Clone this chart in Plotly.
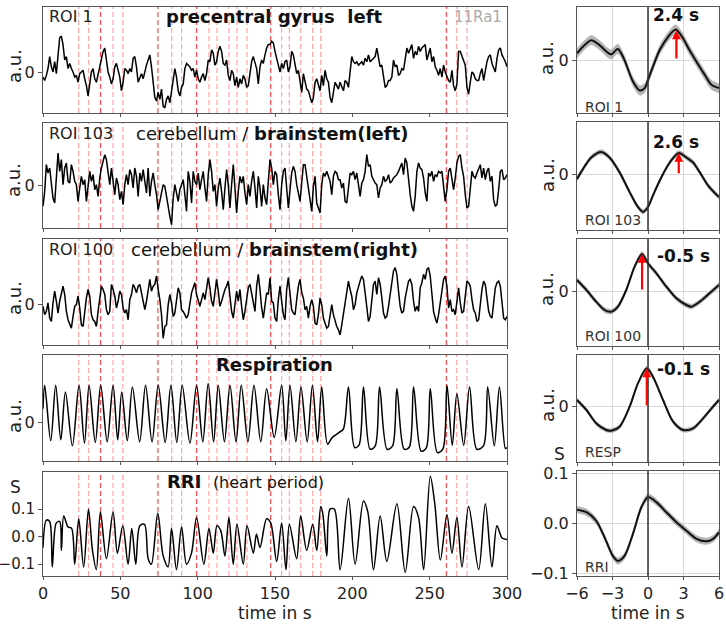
import numpy as np
import plotly.graph_objects as go

W, H = 726, 626          # browser window = figure size (body margin removed)
FONT = "DejaVu Sans"

# ---------------- data ----------------
# fMRI ROI traces, a.u., sampled uniformly over 0..300 s
roi1 = [
    -13, -23, -8, 12, 47, 17, 2, 32, -3, 62,
    102, 107, 82, 37, 47, 12, 27, 12, 2, -13,
    -8, -28, -3, 2, 7, -18, -38, -68, -28, 2,
    12, -18, -28, -3, 22, 47, 62, 72, 42, 2,
    -13, -33, -18, 17, 27, 7, -13, -53, -28, 12,
    7, -3, 12, 2, 42, 47, 17, -28, -13, -3,
    -18, 7, 22, 37, 52, 17, -28, -73, -83, -58,
    -78, -48, -98, -103, -78, -68, -88, -58, -18, 12,
    -13, -53, -68, -43, -33, 12, 27, 22, 17, 7,
    12, -13, 7, -18, -28, -13, -3, -23, -3, 37,
    32, 67, 57, 22, 32, 62, 77, 62, 27, 22,
    37, -8, -23, 7, -3, -38, -13, -43, -18, -33,
    -8, -18, -43, -38, -8, 32, 47, 27, 12, -33,
    17, 37, 27, 52, 72, 82,
    82, 92, 87, 62, 37, 22, 2, 27, 12, 32,
    37, 2, 17, 62, 52, 17, -3, 7, -28, -58,
    -3, -23, -48, -53, -68, -88, -73, -28, -18, -38,
    -53, -8, -38, 7, -18, -28, -73, -88, -58, -28,
    -38, -48, -28, -43, -53, -23, -28, -43, 7, 47,
    32, 27, 32, 22, 27, 32, 22, 42, 32, 52,
    32, 37, 42, 47, 72, 37, 17, 22, -13, -43,
    -38, -23, -23, -13, 37, 17, 22, -8, -3, 12,
    7, 37, 72, 57, 72, 82, 42, 62, 52, 77,
    62, 72, 77, 82, 37, 57, 72, 32, 47, 17,
    7, -8, 12, -13, 22, 2, -13, -23, -28, 7,
    -38, -53, -33, 62, 62, 47, 32, 22, -43, -63,
    -28, 2, -3, -18, -23, -23, -3, 12, -23, 7,
    32, 47, 52, 27, 12, 2, 42, 67, 72, 52,
    42, 32, 17,
]

roi103 = [
    -63, -18, 62, 37, 52, 2, -38, -53, 22, 97,
    42, 77, 2, 52, 67, 12, 7, 62, 42, 12,
    2, -48, -8, 27, 2, 17, -48, 2, 42, 12,
    32, -13, 2, -33, 22, 52, 72, 92, 77, 42,
    2, 52, 12, -28, 22, 2, -43, -18, -58, 2,
    32, 2, 47, 32, -8, 52, 27, -33, 37, 12,
    47, 17, -23, 52, -33, 12, 37, 2, -28, -73,
    -48, -13, 2, -3, -38, -68, -93, -118, -38, 2,
    -23, -48, -13, 2, 17, -28, -78, 42, 12, -53,
    42, 12, 2, 37, -13, 17, 42, -8, -48, 32,
    77, 42, -18, 2, -63, -8, 22, -18, -73, -8,
    47, 2, -68, 2, 62, -8, -83, -18, 27, 7,
    27, -23, -58, 2, -33, 12, 42, -8, -68, 27,
    -8, -63, 2, -38, -58, 12,
    77, 52, 2, 42, 32, -28, -73, 2, 42, 52,
    2, -68, -13, 37, 57, 42, 2, -23, -48, 7,
    62, 62, 27, 7, -28, -78, -3, 27, -53, -68,
    -83, 2, 37, 27, 42, 27, 12, -28, 27, 42,
    37, 17, 17, -8, 7, -48, -53, -8, 37, 32,
    42, 17, 37, 2, -33, 7, 17, 42, 92, 57,
    62, 27, 17, 7, 2, -38, -8, 2, 27, 12,
    17, 32, 7, 12, 22, 27, 32, 42, 52, 67,
    32, 82, 67, 12, -28, -63, -78, -33, 42, 67,
    52, 47, 22, -23, -48, 37, 27, 42, 12, 32,
    27, 42, 37, 42, -3, -48, -13, 42, 52, 12,
    -13, 22, 67, 87, 92, 52, 27, -28, -68, -63,
    2, 42, 27, 22, 37, 52, 62, 22, 52, 17,
    42, 52, 12, 27, -43, -63, -58, -13, 42, 47,
    17, 22, 32,
]

roi100 = [
    -5, -30, -20, 5, -40, -50, 5, 40, 10, -25,
    10, 35, 55, 30, -20, -45, -60, -70, -35, -5,
    0, 25, -10, -60, -65, -20, 20, 45, 25, -30,
    -45, -50, -65, -20, 25, 55, 45, 30, -15, -30,
    -20, 60, 45, 25, -10, 10, 40, 30, -10, -25,
    -15, -45, 15, 30, 60, 50, 35, 55, 60, 35,
    10, -15, 10, 50, 75, 40, 55, 60, 85, 45,
    15, -30, -100, -65, -60, 0, 30, 5, -35, -25,
    20, 50, 35, -15, -20, -30, -40, -30, 10, 35,
    50, 65, 30, 10, -5, 15, 35, 15, 55, 80,
    50, 10, -5, 35, 75, 40, -5, 10, 30, 45,
    55, 70, 25, -20, -40, 10, 40, 10, 45, -5,
    -45, -20, 10, 50, 60, 35, 10, -20, 55, 90,
    45, -10, -40, -5, 35, 30,
    80, 10, 5, -40, -50, 15, 55, 10, -30, -45,
    45, 80, 35, -15, -25, -30, 15, 55, 75, 35,
    20, -15, -5, -40, -5, 15, -5, -55, -60, -30,
    20, 0, -40, -55, -70, -65, -30, 0, -30, -50,
    -65, -75, -90, -60, -30, 0, 35, 70, 45, 25,
    -15, 0, 35, 55, 70, 85, 75, 35, -15, -50,
    -35, 15, 60, 70, 30, 80, 60, 20, -25, -40,
    -35, -5, 35, 70, 100, 110, 90, 40, -5, -25,
    -20, 20, 50, 70, 75, 60, 10, -20, -5, -20,
    50, 65, 90, 75, 105, 110, 85, 20, -20, -40,
    -55, -30, 10, 50, 75, 85, 55, -10, 15, -20,
    -15, -30, 15, 50, 5, -25, -20, 35, 70, 65,
    55, 15, -15, -25, -50, -45, 10, 45, 70, 60,
    20, -20, -35, -40, 5, 50, 65, 70, 55, 10,
    -40, -45, -35,
]

# respiration: key points (peaks and troughs; time in s, a.u.)
resp_t = [0, 1.1, 5.0, 8.2, 11.5, 14.5, 19.0, 23.3, 26.8, 29.8,
          33.8, 37.3, 41.5, 45.3, 48.3, 50.9, 54.5, 57.8, 62.5, 66.3,
          70.5, 74.5, 79.0, 82.7, 86.5, 90.0, 95.0, 99.3, 103.3, 106.8,
          110.3, 113.3, 117.3, 120.9, 124.8, 128.2, 132.5, 136.4, 140.8, 144.6,
          149.5, 154.3, 157.0, 159.7, 163.5, 166.8, 170.8, 174.2, 177.5, 180.2,
          184.0, 187.0, 191.5, 194.2, 197.5, 201.5, 204.3, 207.2, 211.5, 214.8,
          217.6, 222.5, 226.0, 228.8, 233.5, 236.8, 239.6, 244.5, 247.8, 250.4,
          255.0, 258.5, 261.2, 264.6, 267.6, 272.0, 275.8, 280.5, 284.8, 287.5,
          291.8, 295.1, 299.0, 300.0]
resp_v = [40, 110, -55, 110, -52, 90, -70, 110, -62, 110,
          -60, 110, -58, 110, -52, 90, -55, 105, -58, 110,
          -58, 110, -60, 110, -60, 110, -62, 110, -58, 115,
          -58, 110, -58, 110, -58, 110, -58, 110, -58, 100,
          -45, 110, -55, 110, -58, 105, -58, 110, -58, 105,
          -65, -45, -30, -20, 105, -75, -68, 105, -80, -70,
          105, -80, -70, 100, -80, -74, 105, -86, -76, 100,
          -90, -80, 110, -68, 85, -68, 105, -80, -70, 105,
          -70, 105, -78, -75]

# RRI: key points (time in s, s)
rri_t = [0, 2.2, 4.3, 6.0, 8.6, 10.8, 11.9, 13.4, 16.2, 18.5,
         20.5, 23.1, 26.3, 29.4, 32.0, 34.5, 37.1, 41.0, 45.3, 48.1,
         51.6, 55.0, 57.4, 60.0, 62.6, 65.6, 68.0, 70.1, 74.2, 77.7,
         80.9, 83.1, 86.3, 89.6, 92.8, 96.0, 99.3, 104.0, 107.3, 110.1,
         112.5, 115.0, 117.6, 120.2, 123.0, 125.4, 129.5, 131.9, 136.0, 138.0,
         140.3, 144.6, 147.2, 151.1, 154.3, 157.1, 159.3, 164.0, 166.6, 170.5,
         174.4, 177.0, 179.6, 181.0, 183.5, 185.6, 188.4, 192.1, 197.5, 201.8,
         207.2, 210.0, 213.7, 218.0, 222.3, 228.8, 234.2, 239.6, 242.8, 246.1,
         250.4, 253.3, 256.9, 261.2, 264.4, 267.6, 270.9, 275.2, 281.7, 286.0,
         290.3, 293.5, 296.8, 300.0]
rri_v = [-0.04, 0.06, 0.055, -0.11, 0.05, 0.055, -0.05, 0.075, 0.035, 0.03,
         -0.10, 0.065, -0.11, 0.10, -0.05, -0.12, 0.09, -0.08, 0.09, -0.06,
         0.04, -0.10, 0.03, -0.10, 0.04, 0.045, -0.08, -0.10, 0.085, -0.07,
         -0.11, 0.03, -0.12, 0.035, -0.10, -0.06, 0.07, -0.10, 0.03, -0.06,
         0.04, 0.02, -0.07, 0.07, -0.10, 0.045, -0.10, 0.04, -0.06, 0.01,
         -0.04, 0.065, 0.05, -0.09, 0.05, -0.12, 0.045, -0.08, 0.075, -0.05,
         0.045, -0.05, 0.11, 0.08, -0.07, 0.10, 0.10, -0.12, 0.14, -0.10,
         0.13, 0.09, -0.12, 0.075, -0.09, 0.12, -0.13, 0.11, 0.07, -0.12,
         0.22, 0.12, -0.085, 0.08, -0.06, 0.07, -0.11, 0.11, -0.12, 0.12,
         -0.11, 0.04, -0.005, -0.01]

# event markers (s)
events_strong = [37.2, 74.3, 99.3, 147.2, 260.8]
events_light = [23.1, 29.4, 45.3, 51.6, 83.2, 89.6, 107.3, 112.5, 120.2,
                125.4, 131.9, 154.3, 159.3, 166.6, 174.4, 179.6, 267.5, 274.2]

# cross-correlation / lag curves (lag in s)
lag1_t = [-6.0, -5.5, -4.8, -4.1, -3.4, -3.1, -2.55, -2.05, -1.27, -0.7, -0.28,
          0.0, 0.42, 0.99, 1.7, 2.34, 2.97, 3.5, 4.1, 4.8, 5.36, 6.0]
lag1_v = [20, 40, 60, 45, 22, 17, 33, 5, -65, -92, -85,
          -60, -20, 30, 70, 92, 65, 30, -5, -45, -75, -85]
lag103_t = [-6.0, -5.5, -4.8, -3.95, -3.25, -2.4, -1.55, -0.85, -0.42, 0.0,
            0.42, 1.13, 1.84, 2.6, 3.25, 3.81, 4.38, 5.08, 6.0]
lag103_v = [-13, 17, 52, 69, 52, 7, -53, -98, -113, -98,
            -63, -8, 37, 66, 52, 37, 7, -33, -68]
lag100_t = [-6.0, -5.2, -4.38, -3.67, -3.1, -2.54, -1.84, -1.13, -0.5, 0.0,
            0.71, 1.55, 2.4, 3.25, 3.67, 4.38, 5.2, 6.0]
lag100_v = [33, 3, -32, -57, -62, -47, 3, 73, 111, 83,
            53, 13, -22, -42, -47, -32, -7, 18]
lagresp_t = [-6.0, -5.2, -4.38, -3.53, -3.1, -2.4, -1.55, -0.85, -0.1, 0.42,
             1.27, 2.12, 2.97, 3.81, 4.66, 5.5, 6.0]
lagresp_v = [20, -10, -50, -70, -72, -60, 0, 70, 115, 90,
             20, -45, -70, -65, -35, 0, 20]
lagrri_t = [-6.0, -5.2, -4.38, -3.67, -2.97, -2.54, -1.98, -1.27, -0.56, 0.0,
            0.71, 1.55, 2.4, 3.25, 4.1, 4.94, 5.5, 6.0]
lagrri_v = [0.027, 0.022, 0.005, -0.028, -0.065, -0.075, -0.065, -0.021, 0.032, 0.052,
            0.042, 0.022, 0.002, -0.015, -0.031, -0.036, -0.031, -0.018]
lag_err = [15, 8, 8, 7, 0.007]          # half-width of the grey band
peak_lags = [2.4, 2.6, -0.5, -0.1]     # marked lag of max correlation

# ---------------- layout helpers (window pixel coords -> paper) ----------------
def names(i):
    s = "" if i == 1 else str(i)
    return "x" + s, "y" + s, "xaxis" + s, "yaxis" + s

def px(x):
    return x / W

def py(y):
    return 1 - y / H

def xd(a, b):
    return [max(0.0, px(a)), min(1.0, px(b))]

def yd(top, bot):
    return [max(0.0, py(bot)), min(1.0, py(top))]

LX = (43, 507)
RX = (577, 719)
left_boxes = [(7, 113), (123, 228), (239, 345), (355, 461), (472, 576)]
right_boxes = [(7, 113), (122, 230), (239, 346), (355, 462), (471, 576)]
left_ranges = [[-118, 192], [-128, 187], [-120, 195], [-115, 200], [-0.143, 0.235]]
right_ranges = [[-160, 160], [-168, 160], [-165, 156], [-166, 155], [-0.105, 0.104]]

time = np.linspace(0, 300, len(roi1))
left_series = [
    (time, roi1, "linear"),
    (np.linspace(0, 300, len(roi103)), roi103, "linear"),
    (np.linspace(0, 300, len(roi100)), roi100, "linear"),
    (resp_t, resp_v, "spline"),
    (rri_t, rri_v, "spline"),
]
right_series = [(lag1_t, lag1_v), (lag103_t, lag103_v), (lag100_t, lag100_v),
                (lagresp_t, lagresp_v), (lagrri_t, lagrri_v)]

fig = go.Figure()
layout = {}
shapes = []
annotations = []

FRAME = "#555"
tickfont = dict(family=FONT, size=16, color="#222")
axis_common = dict(ticks="outside", tickcolor=FRAME, showline=True,
                   mirror=True, linecolor=FRAME, linewidth=1, zeroline=False,
                   automargin=False)

# left panels
for k in range(5):
    i = k + 1
    xn, yn, xa, ya = names(i)
    tx, tv, shp = left_series[k]
    line = dict(color="black", width=1.5, shape=shp)
    if shp == "spline":
        line["smoothing"] = 0.9
    fig.add_trace(go.Scatter(x=tx, y=tv, mode="lines", line=line,
                             xaxis=xn, yaxis=yn, showlegend=False, hoverinfo="skip"))
    layout[xa] = dict(domain=xd(*LX), anchor=yn, range=[0, 300],
                      tickvals=[0, 50, 100, 150, 200, 250, 300], ticklen=3,
                      showticklabels=(k == 4), showgrid=False, tickfont=tickfont,
                      **axis_common)
    if k < 4:
        ytv, ytt, yf = [0], ["0"], tickfont
    else:
        ytv, ytt = [-0.1, 0.0, 0.1], ["\u22120.1", "0.0", "0.1"]
        yf = dict(family=FONT, size=15, color="#222")
    layout[ya] = dict(domain=yd(*left_boxes[k]), anchor=xn, range=left_ranges[k],
                      tickvals=ytv, ticktext=ytt, showgrid=False, tickfont=yf,
                      ticklen=4, **axis_common)
    for t in events_light + events_strong:
        alpha = 0.8 if t in events_strong else 0.4
        shapes.append(dict(type="line", xref=xn, yref=yn + " domain", x0=t, x1=t,
                           y0=0, y1=1, layer="below",
                           line=dict(color=f"rgba(255,30,30,{alpha})", width=1.2,
                                     dash="5px,3px")))

# right panels
for k in range(5):
    i = k + 6
    xn, yn, xa, ya = names(i)
    lt, lv = right_series[k]
    lv = np.array(lv, dtype=float)
    err = lag_err[k]
    fig.add_trace(go.Scatter(x=lt, y=lv + err, mode="lines",
                             line=dict(width=0, shape="spline", smoothing=0.8),
                             xaxis=xn, yaxis=yn, showlegend=False, hoverinfo="skip"))
    fig.add_trace(go.Scatter(x=lt, y=lv - err, mode="lines", fill="tonexty",
                             fillcolor="rgba(150,150,150,0.7)",
                             line=dict(width=0, shape="spline", smoothing=0.8),
                             xaxis=xn, yaxis=yn, showlegend=False, hoverinfo="skip"))
    fig.add_trace(go.Scatter(x=lt, y=lv, mode="lines",
                             line=dict(color="#111", width=2, shape="spline", smoothing=0.8),
                             xaxis=xn, yaxis=yn, showlegend=False, hoverinfo="skip"))
    layout[xa] = dict(domain=xd(*RX), anchor=yn, range=[-6, 6],
                      tickvals=[-6, -3, 0, 3, 6],
                      ticktext=["\u22126", "\u22123", "0", "3", "6"], ticklen=3,
                      showticklabels=(k == 4), showgrid=True, gridcolor="#d9d9d9",
                      gridwidth=1, tickfont=tickfont, **axis_common)
    if k < 4:
        ytv, ytt = [0], ["0"]
    else:
        ytv, ytt = [-0.1, 0.0, 0.1], ["\u22120.1", "0.0", "0.1"]
    layout[ya] = dict(domain=yd(*right_boxes[k]), anchor=xn, range=right_ranges[k],
                      tickvals=ytv, ticktext=ytt, showgrid=True, gridcolor="#d9d9d9",
                      gridwidth=1, tickfont=tickfont, ticklen=4, **axis_common)
    shapes.append(dict(type="line", xref=xn, yref=yn + " domain", x0=0, x1=0,
                       y0=0, y1=1, line=dict(color="#333", width=1.5)))
    if k < 4:
        lag = peak_lags[k]
        peak = float(np.interp(lag, lt, lv))
        annotations.append(dict(x=lag, y=peak, xref=xn, yref=yn, ax=lag, ay=0,
                                axref=xn, ayref=yn, text="", showarrow=True,
                                arrowhead=2, arrowsize=0.8, arrowwidth=2.2,
                                arrowcolor="red"))

# ---------------- texts ----------------
def txt(x, y, s, size=15, color="#222", xanchor="center", yanchor="middle", angle=0):
    annotations.append(dict(x=px(x), y=py(y), xref="paper", yref="paper", text=s,
                            showarrow=False, xanchor=xanchor, yanchor=yanchor,
                            textangle=angle,
                            font=dict(family=FONT, size=size, color=color)))

# left panel titles/labels
txt(47, 17, "ROI 1", 16, xanchor="left")
txt(274, 17, "<b>precentral gyrus\u00a0 left</b>", 18, color="#111")
txt(504, 17, "11Ra1", 15, color="#aaa", xanchor="right")
txt(47, 133, "ROI 103", 16, xanchor="left")
txt(272, 133, "cerebellum / <b>brainstem(left)</b>", 18, color="#111")
txt(47, 249, "ROI 100", 16, xanchor="left")
txt(274, 249, "cerebellum / <b>brainstem(right)</b>", 18, color="#111")
txt(274, 364, "<b>Respiration</b>", 18, color="#111")
txt(165, 481, "<b>RRI</b>\u00a0 <span style='font-size:16px'>(heart period)</span>", 18,
    color="#111", xanchor="left")

# y axis titles
for zero in [72, 186, 304, 422]:
    txt(14, zero - 6, "a.u.", 18, angle=-90)
txt(15, 487, "S", 17)
for zero in [60, 177, 291, 407]:
    txt(547, zero - 2, "a.u.", 18, angle=-90)
txt(559, 454, "S", 17)

# right panel labels
for lag, y in zip(peak_lags, [15, 142, 256, 369]):
    txt(683 if lag < 0 else 676, y, f"<b>{lag} s</b>", 17, color="#111")
for s, y in zip(["ROI 1", "ROI 103", "ROI 100", "RESP", "RRI"], [107, 220, 336, 452, 567]):
    txt(583, y, s, 14, color="#333", xanchor="left")

# x axis titles
txt(275, 613, "time in s", 17)
txt(648, 613, "time in s", 17)

fig.update_layout(**layout)
fig.update_layout(width=W, height=H, margin=dict(l=0, r=0, t=0, b=0),
                  paper_bgcolor="white", plot_bgcolor="white",
                  font=dict(family=FONT, size=15, color="#222"),
                  shapes=shapes, annotations=annotations, showlegend=False)

fig.write_html("out.html",
               config={"displayModeBar": False},
               post_script="document.body.style.margin='0px';"
                           "document.body.style.overflow='hidden';")
